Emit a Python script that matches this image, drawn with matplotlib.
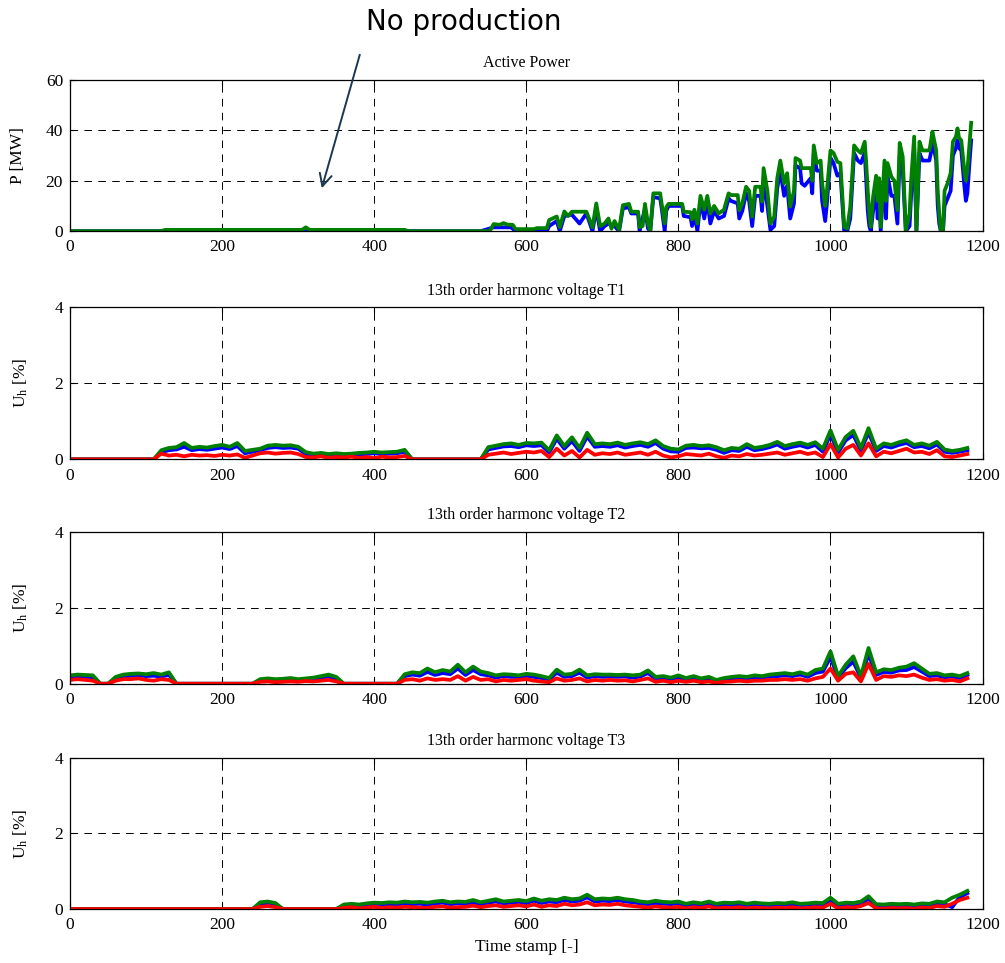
import numpy as np
import matplotlib
matplotlib.use("Agg")
import matplotlib.pyplot as plt

# MATLAB-like look
plt.rcParams["font.family"] = ["Liberation Serif", "DejaVu Serif"]
plt.rcParams["mathtext.fontset"] = "custom"
plt.rcParams["mathtext.rm"] = "Liberation Serif"
plt.rcParams["mathtext.it"] = "Liberation Serif:italic"
plt.rcParams["lines.scale_dashes"] = False

# ---- Active power, breakpoints (time stamp, MW) ----
power_green = [
    (0, 0), (120, 0), (125, 0.5), (305, 0.5), (310, 1.5), (315, 0.5), (440, 0.5), (445, 0),
    (540, 0), (552, 0), (557, 2.8), (565, 2.5), (570, 3.2), (575, 2.6), (582, 2.5), (586, 0.8),
    (610, 0.8), (614, 1.2), (627, 1.2), (630, 4.4), (640, 5.8), (644, 1.6), (650, 7.8), (655, 6),
    (660, 7.7), (679, 7.7), (687, 1.5), (692, 11), (697, 2), (703, 3), (708, 5), (712, 1),
    (716, 4), (722, 0.5), (727, 10.3), (735, 10.8), (738, 7.7), (747, 7.7), (749, 1.6), (753, 2),
    (756, 10.8), (760, 3), (763, 0), (767, 15), (776, 15), (778, 10.8), (782, 3), (784, 9.5),
    (787, 10.8), (805, 10.8), (807, 7.7), (816, 7.5), (818, 4.7), (821, 8.5), (825, 3), (829, 14),
    (834, 8.5), (838, 14), (842, 7), (847, 10), (853, 7), (860, 8.5), (866, 15), (869, 14.3),
    (878, 14.3), (880, 8.3), (884, 11), (889, 17.6), (893, 16), (897, 5.7), (901, 17.6), (908, 17.6),
    (910, 11.7), (912, 25), (917, 16), (921, 3), (926, 5.7), (930, 21), (934, 28), (939, 19),
    (943, 23), (947, 9.7), (952, 16), (954, 29), (960, 28), (962, 25), (974, 25), (976, 20),
    (978, 34), (982, 27), (987, 28), (989, 19), (993, 10), (995, 15), (1000, 32), (1004, 31),
    (1009, 27.5), (1013, 27), (1018, 1.7), (1022, 1), (1026, 9.7), (1031, 34), (1036, 32), (1040, 31),
    (1045, 35.5), (1047, 27), (1049, 16), (1051, 7), (1053, 1.7), (1056, 13.6), (1060, 22), (1062, 12),
    (1064, 21), (1066, 1.7), (1071, 28), (1073, 12), (1075, 27), (1080, 21.6), (1084, 20), (1088, 8.3),
    (1091, 35), (1095, 29.5), (1099, 0.4), (1104, 7), (1106, 20), (1110, 37.5), (1113, 0.4), (1117, 35.5),
    (1121, 32), (1130, 32), (1132, 35.5), (1134, 39.5), (1139, 32), (1141, 16), (1143, 7), (1145, 0.4),
    (1148, 0.4), (1150, 16), (1154, 19), (1158, 23), (1161, 35.5), (1165, 37.5), (1167, 40.8), (1169, 37),
    (1172, 36), (1176, 24), (1178, 20), (1180, 24), (1183, 35.5), (1185, 43),
]
power_blue = [
    (0, 0), (540, 0), (557, 1.5), (580, 1.5), (586, 0), (627, 0), (630, 2), (640, 4), (644, 0),
    (650, 6), (660, 6.5), (670, 3), (679, 7), (687, 0), (692, 9), (697, 0), (703, 2), (708, 3),
    (716, 2), (722, 0), (727, 9), (735, 9.5), (738, 7), (747, 7), (749, 0), (756, 9), (760, 1),
    (763, 0), (767, 13.5), (776, 13), (778, 9), (782, 0), (784, 8), (787, 10), (805, 10), (807, 6),
    (816, 5.5), (818, 2), (821, 7), (825, 0), (829, 12), (834, 5), (838, 12), (842, 3), (847, 8),
    (853, 5), (860, 6), (866, 13), (869, 12), (878, 11), (880, 5), (884, 8), (889, 15), (893, 12),
    (897, 2), (901, 14), (908, 14), (910, 8), (912, 21), (917, 10), (921, 0.5), (926, 2), (930, 17),
    (934, 24), (939, 14), (943, 18), (947, 5), (952, 11), (954, 26), (960, 25), (962, 19), (966, 18),
    (974, 21), (976, 15), (978, 31), (982, 24), (987, 24), (989, 12), (993, 4), (995, 10), (1000, 29),
    (1004, 27), (1009, 22), (1013, 23), (1018, 0), (1022, 0), (1026, 5), (1031, 31), (1036, 28),
    (1040, 27), (1045, 31), (1047, 20), (1049, 8), (1051, 2), (1053, 0), (1056, 8), (1060, 17),
    (1062, 5), (1064, 16), (1066, 0), (1071, 24), (1073, 5), (1075, 22), (1080, 14), (1084, 14),
    (1088, 3), (1091, 30), (1095, 24), (1099, 0), (1104, 2), (1106, 14), (1110, 33), (1113, 0),
    (1117, 31), (1121, 28), (1130, 28), (1132, 31), (1134, 36), (1139, 28), (1141, 10), (1143, 3),
    (1145, 0), (1148, 0), (1150, 10), (1154, 13), (1158, 16), (1161, 30), (1165, 33), (1167, 36),
    (1169, 33), (1172, 32), (1176, 18), (1178, 12), (1180, 15), (1183, 28), (1185, 36),
]

# ---- 13th harmonic voltage, every 10 time stamps from 0 to 1180, in 1/100 % ----
t_h = np.arange(0, 1190, 10)

t1_green = [0] * 12 + [
    24, 30, 32, 43, 30, 33, 31, 35, 38, 33, 43, 22, 25, 28, 36, 38, 36, 37, 33, 19,
    15, 17, 14, 16, 14, 15, 17, 18, 20, 18, 19, 20, 25] + [0] * 10 + [
    32, 36, 40, 42, 38, 43, 42, 44, 24, 63, 35, 58, 30, 70, 40, 42, 40, 44, 38, 42,
    45, 40, 50, 35, 28, 26, 36, 38, 35, 37, 32, 24, 30, 28, 40, 30, 33, 38, 46, 35,
    40, 44, 38, 45, 28, 76, 25, 59, 75, 30, 82, 28, 42, 38, 45, 50, 38, 42, 36, 46,
    26, 22, 25, 30]
t1_blue = [0] * 12 + [
    19, 24, 26, 33, 24, 27, 25, 28, 31, 27, 35, 16, 20, 24, 30, 32, 30, 31, 28, 14,
    11, 13, 10, 12, 10, 12, 13, 14, 16, 14, 15, 16, 20] + [0] * 10 + [
    26, 30, 34, 35, 32, 37, 35, 37, 18, 54, 28, 48, 22, 60, 33, 35, 33, 37, 31, 35,
    38, 33, 43, 28, 21, 20, 30, 31, 29, 30, 25, 17, 24, 22, 33, 24, 27, 32, 39, 28,
    33, 37, 31, 38, 20, 66, 18, 50, 64, 23, 71, 22, 35, 31, 38, 43, 32, 35, 29, 39,
    20, 17, 20, 24]
t1_red = [0] * 12 + [
    15, 10, 12, 8, 12, 10, 11, 9, 12, 10, 13, 4, 10, 16, 18, 15, 17, 18, 14, 6,
    5, 8, 4, 6, 5, 7, 4, 6, 3, 7, 5, 6, 9] + [0] * 10 + [
    12, 15, 18, 14, 17, 20, 18, 22, 6, 28, 10, 22, 5, 25, 12, 16, 14, 18, 12, 15,
    18, 12, 20, 10, 5, 8, 14, 12, 10, 15, 8, 4, 10, 8, 14, 10, 12, 15, 18, 12,
    16, 20, 14, 18, 6, 40, 5, 28, 38, 10, 42, 8, 20, 16, 22, 28, 18, 20, 14, 24,
    8, 6, 10, 14]

t2_green = [22, 24, 23, 22, 0, 0, 18, 24, 26, 27, 25, 28, 24, 30] + [0] * 11 + [
    12, 14, 12, 13, 15, 12, 14, 16, 20, 24, 18] + [0] * 8 + [
    25, 30, 28, 40, 30, 36, 32, 50, 30, 45, 32, 28, 22, 25, 24, 22, 26, 24, 20, 15,
    37, 24, 26, 37, 22, 25, 24, 24, 23, 24, 22, 24, 35, 18, 20, 16, 22, 15, 20, 14,
    18, 10, 15, 18, 20, 18, 22, 20, 24, 26, 28, 25, 30, 24, 36, 40, 85, 20, 50, 72,
    20, 94, 30, 38, 36, 42, 45, 54, 40, 26, 28, 22, 24, 20, 28]
t2_blue = [17, 19, 18, 17, 0, 0, 14, 19, 21, 22, 20, 21, 19, 23] + [0] * 11 + [
    9, 11, 9, 10, 12, 9, 11, 12, 16, 19, 14] + [0] * 8 + [
    20, 24, 21, 31, 23, 28, 25, 40, 23, 36, 25, 22, 16, 20, 18, 18, 21, 18, 15, 11,
    29, 18, 20, 29, 16, 20, 18, 19, 18, 19, 16, 19, 28, 13, 16, 12, 17, 11, 16, 10,
    14, 7, 11, 14, 16, 14, 17, 16, 19, 20, 22, 20, 24, 18, 28, 32, 70, 15, 41, 58,
    15, 78, 23, 31, 29, 35, 36, 44, 32, 20, 22, 17, 19, 15, 23]
t2_red = [10, 12, 10, 8, 0, 0, 8, 12, 12, 14, 10, 8, 12, 10] + [0] * 11 + [
    5, 6, 4, 5, 6, 5, 7, 6, 8, 10, 6] + [0] * 8 + [
    10, 12, 8, 14, 10, 12, 10, 20, 8, 18, 10, 12, 6, 10, 8, 10, 12, 8, 6, 4,
    14, 8, 10, 14, 6, 10, 8, 10, 8, 9, 6, 10, 14, 5, 8, 4, 8, 5, 8, 4,
    6, 2, 5, 6, 8, 6, 8, 8, 10, 10, 12, 10, 12, 8, 14, 18, 40, 8, 26, 30,
    6, 52, 10, 20, 18, 22, 20, 24, 16, 10, 12, 8, 10, 6, 14]

t3_green = [0] * 25 + [18, 20, 16] + [0] * 8 + [
    12, 14, 12, 15, 17, 16, 18, 17, 20, 18, 19, 17, 20, 22, 18, 20, 19, 24, 18, 22,
    26, 20, 22, 24, 21, 28, 22, 26, 24, 30, 26, 28, 38, 26, 28, 27, 30, 26, 24, 20,
    18, 22, 19, 18, 20, 14, 18, 15, 20, 14, 17, 16, 18, 14, 17, 15, 14, 16, 15, 18,
    14, 15, 17, 16, 30, 14, 17, 16, 20, 34, 13, 12, 14, 13, 14, 12, 15, 14, 20, 18,
    30, 38, 48]
t3_blue = [0] * 25 + [13, 15, 11] + [0] * 8 + [
    8, 10, 8, 10, 12, 11, 13, 12, 15, 13, 14, 12, 15, 17, 13, 15, 14, 18, 13, 17,
    20, 15, 17, 19, 16, 22, 16, 20, 18, 24, 20, 22, 31, 20, 22, 21, 24, 20, 18, 15,
    13, 16, 14, 13, 15, 9, 13, 10, 15, 9, 12, 11, 13, 9, 12, 10, 9, 11, 10, 13,
    9, 10, 12, 11, 24, 9, 12, 11, 15, 27, 8, 7, 9, 8, 9, 7, 10, 9, 15, 13,
    5, 32, 42]
t3_red = [0] * 25 + [6, 8, 5] + [0] * 8 + [
    3, 5, 2, 4, 6, 3, 5, 4, 6, 5, 4, 3, 6, 7, 4, 5, 6, 9, 5, 8,
    10, 6, 8, 10, 7, 12, 6, 10, 8, 14, 10, 12, 18, 10, 12, 11, 14, 10, 8, 6,
    4, 7, 5, 4, 6, 2, 5, 3, 7, 2, 4, 3, 5, 2, 4, 3, 2, 4, 3, 5,
    2, 3, 5, 4, 14, 2, 5, 4, 8, 16, 2, 1, 3, 2, 3, 1, 4, 3, 8, 6,
    14, 24, 30]

titles = ["Active Power", "13th order harmonc voltage T1",
          "13th order harmonc voltage T2", "13th order harmonc voltage T3"]
x_ticks = [0, 200, 400, 600, 800, 1000, 1200]

BLUE = (0, 0, 1)
GREEN = (0, 0.5, 0)
RED = (1, 0, 0)
LW = 2.7

fig = plt.figure(figsize=(10.05, 9.63), dpi=100)
rects = [
    [0.0697, 0.760, 0.908, 0.157],
    [0.0697, 0.523, 0.908, 0.158],
    [0.0697, 0.290, 0.908, 0.158],
    [0.0697, 0.056, 0.908, 0.157],
]
axes = [fig.add_axes(r) for r in rects]


def style_axis(ax, title):
    ax.set_xlim(0, 1200)
    ax.set_xticks(x_ticks)
    ax.grid(True, color="black", linestyle=(0, (5.5, 4.5)), linewidth=0.7)
    ax.tick_params(direction="in", top=True, right=True, length=4,
                   labelsize=12.5, width=0.8)
    ax.tick_params(axis="x", pad=6)
    ax.tick_params(axis="y", pad=5)
    for s in ax.spines.values():
        s.set_linewidth(0.9)
    ax.set_title(title, fontsize=11.5, pad=9)


# active power
ax = axes[0]
px, py = zip(*power_blue)
ax.plot(px, py, color=BLUE, lw=LW)
px, py = zip(*power_green)
ax.plot(px, py, color=GREEN, lw=LW)
ax.set_ylim(0, 60)
ax.set_yticks([0, 20, 40, 60])
style_axis(ax, titles[0])
ax.set_ylabel("P [MW]", fontsize=12.5)
ax.yaxis.set_label_coords(-0.048, 0.5)

# harmonic voltages
harm = [(t1_blue, t1_green, t1_red), (t2_blue, t2_green, t2_red), (t3_blue, t3_green, t3_red)]
for ax, (b, g, r), title in zip(axes[1:], harm, titles[1:]):
    ax.plot(t_h, np.array(b) / 100, color=BLUE, lw=LW)
    ax.plot(t_h, np.array(g) / 100, color=GREEN, lw=LW)
    ax.plot(t_h, np.array(r) / 100, color=RED, lw=LW)
    ax.set_ylim(0, 4)
    ax.set_yticks([0, 2, 4])
    style_axis(ax, title)
    ax.set_ylabel(r"U$_{\mathrm{h}}$ [%]", fontsize=12.5)
    ax.yaxis.set_label_coords(-0.044, 0.5)

axes[-1].set_xlabel("Time stamp [-]", fontsize=12.5, labelpad=4)

# "No production" annotation
fig.text(0.461, 0.977, "No production", family="DejaVu Sans", fontsize=20,
         ha="center", va="center")
axes[0].annotate("", xy=(331, 17), xytext=(381, 70), xycoords="data",
                 textcoords="data", annotation_clip=False,
                 arrowprops=dict(arrowstyle="->", color="#1b3752", lw=1.4,
                                 mutation_scale=22, shrinkA=0, shrinkB=0))

fig.savefig("out.png", dpi=100)
